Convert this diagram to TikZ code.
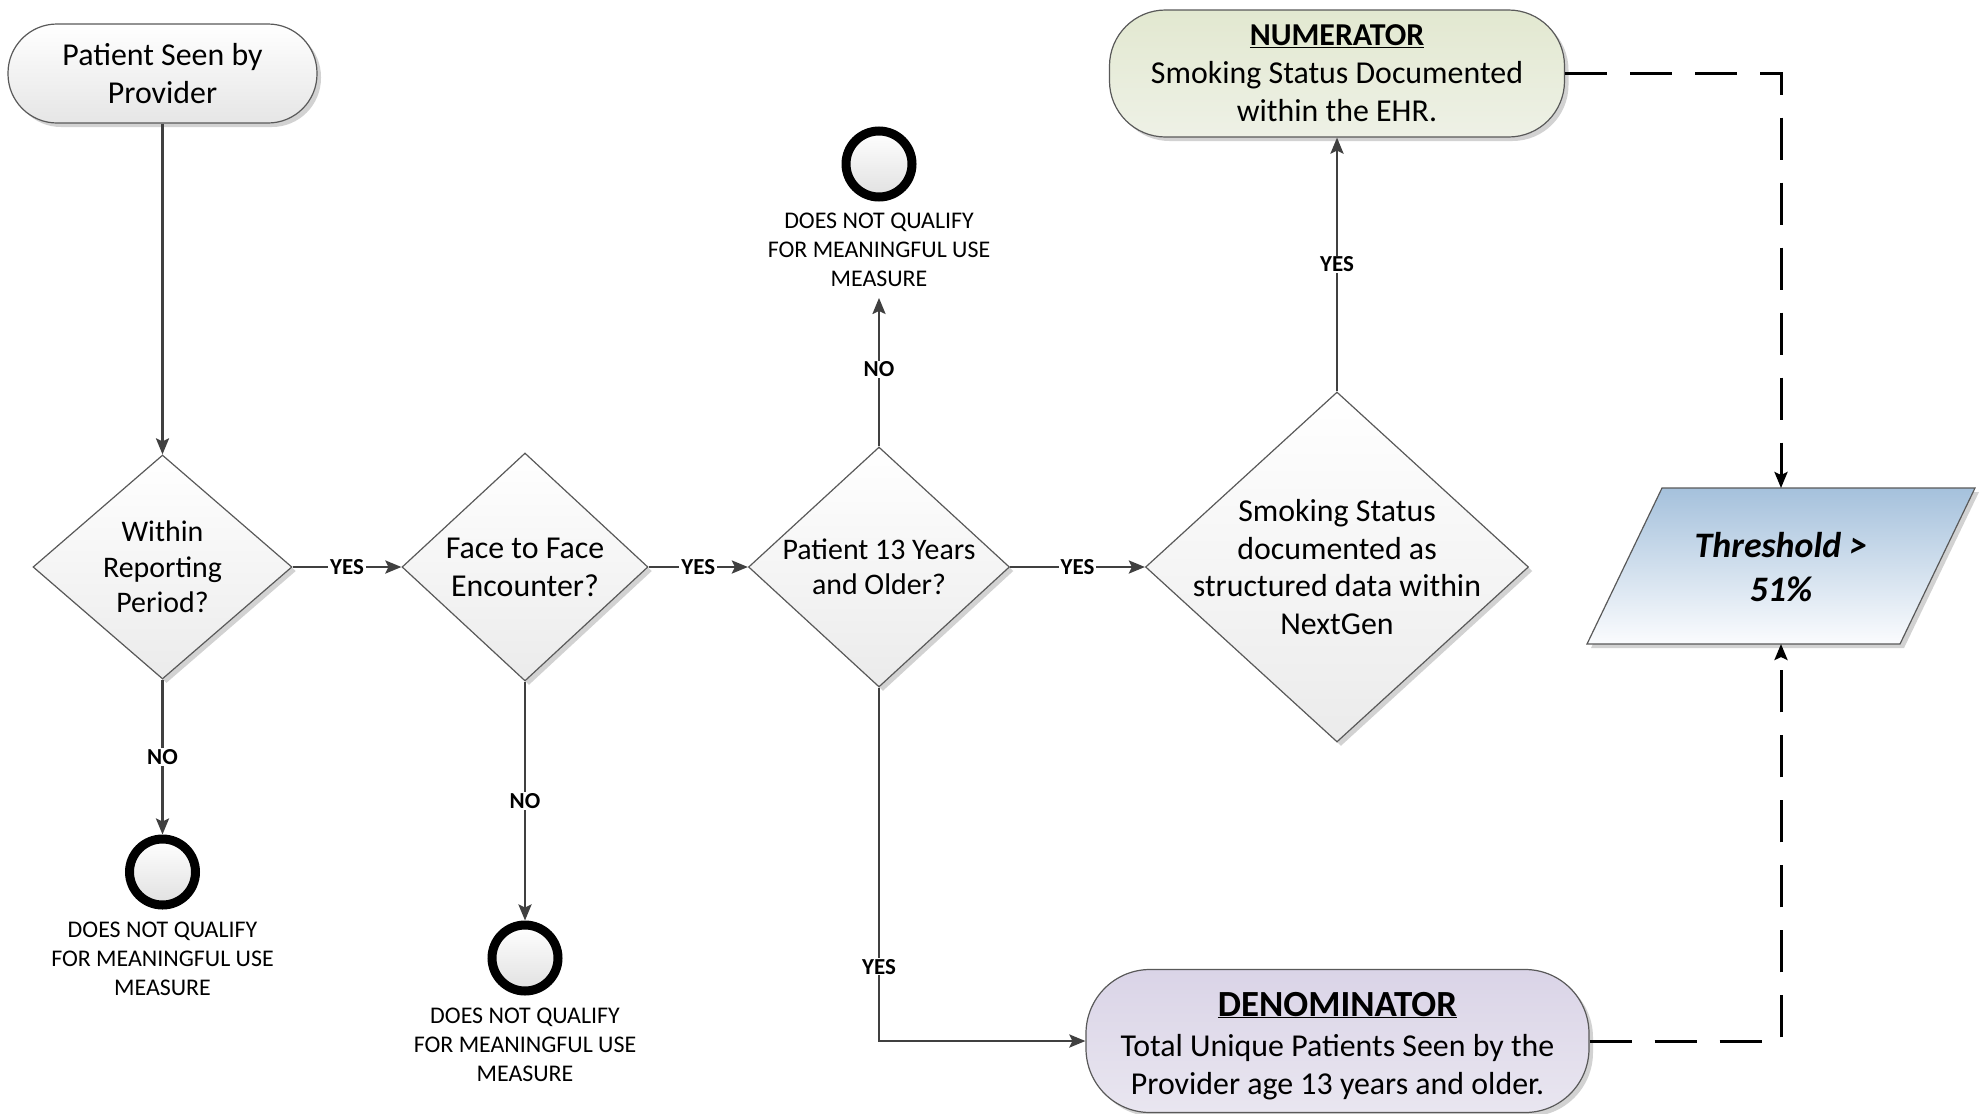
\documentclass[tikz,border=0pt]{standalone}
\usepackage{fontspec}
\setmainfont{Carlito}
\usetikzlibrary{shapes.geometric,arrows.meta,shadows,calc}
\definecolor{lnc}{HTML}{404040}
\definecolor{bdr}{HTML}{595959}
\definecolor{numtop}{HTML}{E2E8D0}
\definecolor{numbot}{HTML}{EEF1E6}
\definecolor{dentop}{HTML}{DAD4E7}
\definecolor{denbot}{HTML}{E9E6F0}
\definecolor{thrtop}{HTML}{A5C1DC}
\definecolor{thrbot}{HTML}{FBFCFE}
\definecolor{dia}{HTML}{EBEBEB}
\definecolor{shd}{HTML}{D2D2D2}
\tikzset{
  conn/.style={draw=lnc, line width=2.6bp, -{Stealth[length=16bp,width=13bp,inset=3bp]}},
  dconn/.style={draw=black, line width=3bp, dash pattern=on 42bp off 23bp, -{Stealth[length=16bp,width=13bp,inset=3bp]}},
  shdw/.style={drop shadow={shadow xshift=4bp, shadow yshift=-4bp, fill=shd, opacity=1}},
  decision/.style={diamond, draw=bdr, line width=1.2bp, top color=white, bottom color=dia, inner sep=0pt, shdw},
  txt/.style={font=\fontsize{32}{38}\selectfont, align=center, inner sep=0pt},
  smtxt/.style={font=\fontsize{30}{35.5}\selectfont, align=center, inner sep=0pt},
  term/.style={rectangle, draw=bdr, line width=1.2bp, align=center, inner sep=0pt, shdw, font=\fontsize{32}{38}\selectfont},
  endc/.style={circle, draw=black, line width=9bp, minimum size=66bp, inner sep=0pt, top color=white, bottom color=black!12},
  endlbl/.style={font=\fontsize{24}{29}\selectfont, align=center, inner xsep=0pt, inner ysep=11bp},
  yn/.style={font=\fontsize{23}{27}\selectfont\bfseries, fill=white, inner xsep=2bp, inner ysep=1bp},
}
\begin{document}
\begin{tikzpicture}[x=1bp,y=-1bp]
\useasboundingbox (0,0) rectangle (1984,1113);

% start terminal
\node[term, rounded corners=49bp, minimum width=309bp, minimum height=99bp, top color=white, bottom color=black!10] (start) at (162.5,73.5) {Patient Seen by\\Provider};

% decisions
\node[decision, minimum width=259bp, minimum height=224bp] (d1) at (162.5,567) {};
\node[smtxt] (d1t) at (d1.center) {Within\\Reporting\\Period?};
\node[decision, minimum width=246bp, minimum height=228bp] (d2) at (525,567) {};
\node[txt] (d2t) at (d2.center) {Face to Face\\Encounter?};
\node[decision, minimum width=261bp, minimum height=240bp] (d3) at (879,567) {};
\node[smtxt] (d3t) at (d3.center) {Patient 13 Years\\and Older?};
\node[decision, minimum width=383bp, minimum height=350bp] (d4) at (1337,567) {};
\node[txt] (d4t) at (d4.center) {Smoking Status\\documented as\\structured data within\\NextGen};

% numerator / denominator
\node[term, rounded corners=56bp, minimum width=455bp, minimum height=127bp, top color=numtop, bottom color=numbot] (num) at (1337,73.5)
  {{\bfseries\underline{NUMERATOR}}\\Smoking Status Documented\\within the EHR.};
\node[term, rounded corners=64bp, minimum width=503bp, minimum height=143bp, top color=dentop, bottom color=denbot] (den) at (1337.5,1041) {};
\node[txt] (dent) at (1337.5,1046)
  {{\fontsize{37}{42}\selectfont\bfseries\underline{DENOMINATOR}}\\[3bp]Total Unique Patients Seen by the\\Provider age 13 years and older.};

% threshold parallelogram
\path[draw=bdr, line width=1.2bp, top color=thrtop, bottom color=thrbot, shdw]
  (1662,488) -- (1975,488) -- (1900,644) -- (1587,644) -- cycle;
\node[txt, font=\fontsize{36}{45}\selectfont\bfseries\itshape] (thr) at (1781,567) {Threshold >\\51\%};
\coordinate (thrN) at (1781,488);
\coordinate (thrS) at (1781,644);

% end circles
\node[endc] (c1) at (162.5,872) {};
\node[endlbl] (l1) at (162.5,959) {DOES NOT QUALIFY\\FOR MEANINGFUL USE\\MEASURE};
\node[endc] (c2) at (525,958) {};
\node[endlbl] (l2) at (525,1045) {DOES NOT QUALIFY\\FOR MEANINGFUL USE\\MEASURE};
\node[endc] (c3) at (879,164) {};
\node[endlbl] (l3) at (879,250) {DOES NOT QUALIFY\\FOR MEANINGFUL USE\\MEASURE};

% connectors
\draw[conn] (start) -- (d1);
\draw[conn] (d1) -- node[yn] (y1) {YES} (d2);
\draw[conn] (d2) -- node[yn] (y2) {YES} (d3);
\draw[conn] (d3) -- node[yn] (y3) {YES} (d4);
\draw[conn] (d1) -- node[yn] (n1) {NO} (c1);
\draw[conn] (d2) -- node[yn] (n2) {NO} (c2);
\draw[conn] (d3) -- node[yn, pos=0.52] (n3) {NO} (l3);
\draw[conn] (d4) -- node[yn] (y4) {YES} (num);
\draw[conn] (d3) |- node[yn, pos=0.395] (y5) {YES} (den);
\draw[dconn] (num) -| (thrN);
\draw[dconn] (den) -| (thrS);
\end{tikzpicture}
\end{document}
